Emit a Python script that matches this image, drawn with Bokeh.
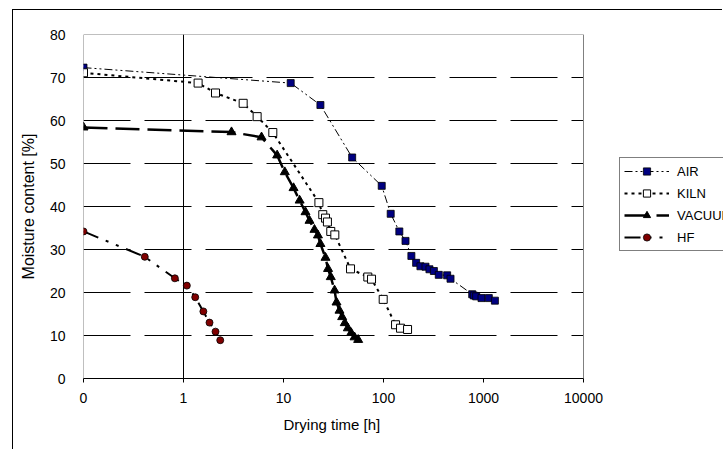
from bokeh.plotting import figure
from bokeh.models import (FixedTicker, Legend, LegendItem, ColumnDataSource, Title)
from bokeh.embed import file_html
from bokeh.resources import INLINE

# ---- data (time 0 is plotted at 0.1 h, the log axis origin labelled "0") ----
air_t = [0.1, 11.8, 23.4, 48.6, 96, 118, 144, 166, 190, 212, 234, 263, 288, 319,
         357, 433, 468, 771, 800, 845, 955, 1130, 1300]
air_m = [72.3, 68.7, 63.6, 51.4, 44.8, 38.3, 34.2, 32.0, 28.5, 26.9, 26.1, 26.0,
         25.4, 25.0, 24.1, 24.0, 23.2, 19.6, 19.3, 19.1, 18.7, 18.7, 18.1]

kiln_t = [0.1, 1.40, 2.09, 3.95, 5.45, 7.82, 22.6, 24.7, 26.3, 27.5, 29.7, 32.6,
          46.8, 69.7, 75.9, 99.3, 132, 148, 174]
kiln_m = [71.1, 68.7, 66.4, 64.0, 60.9, 57.2, 40.9, 38.1, 37.3, 36.4, 34.2, 33.4,
          25.5, 23.6, 23.1, 18.4, 12.5, 11.7, 11.4]

vac_t = [0.1, 3.02, 6.03, 8.64, 10.3, 12.6, 14.5, 16.6, 18.2, 20.4, 22.1, 23.4,
         26.3, 27.9, 29.7, 32.4, 33.9, 36.3, 38.6, 41.0, 44.0, 47.5, 51.3, 55.8]
vac_m = [58.4, 57.3, 56.1, 51.9, 48.0, 44.3, 41.4, 38.7, 36.7, 34.6, 33.3, 31.3,
         28.1, 25.5, 23.6, 20.5, 17.7, 15.8, 14.3, 12.9, 11.7, 10.6, 9.6, 9.0]

hf_t = [0.1, 0.41, 0.82, 1.08, 1.31, 1.58, 1.82, 2.09, 2.33]
hf_m = [34.2, 28.3, 23.3, 21.6, 18.9, 15.6, 13.0, 10.9, 8.9]

x_ticks = [0.1, 1, 10, 100, 1000, 10000]
x_tick_labels = ["0", "1", "10", "100", "1000", "10000"]
y_ticks = [0, 10, 20, 30, 40, 50, 60, 70, 80]
grid_ticks = [10, 20, 30, 40, 50, 60, 70]

X_MIN, X_MAX = 0.1, 10000     # plot-area extent of the log axis
Y_MIN, Y_MAX = 0, 80
Y_CROSS = 1                    # value axis crosses the log axis at 1

FONT = "Liberation Sans"

# The frame is extended to the right edge so the legend may sit beside the
# plot area; the visible plot area (0.1..10000) is 500 px wide.
FRAME_W = 640
x_view_max = 10 ** (-1 + FRAME_W / 100.0)

p = figure(width=710, height=440, x_axis_type="log",
           x_range=(X_MIN, x_view_max), y_range=(Y_MIN, Y_MAX),
           output_backend="svg", toolbar_location=None,
           min_border_left=70, min_border_right=0,
           min_border_top=24, min_border_bottom=72,
           margin=(9, 0, 0, 12),
           styles={"border-left": "1px solid black", "border-top": "1px solid black"})

p.background_fill_color = "white"
p.border_fill_color = "white"
p.outline_line_color = None

# grid lines (dashed) only across the plot area
p.xgrid.grid_line_color = None
p.ygrid.grid_line_color = None
p.segment(x0=[X_MIN] * len(grid_ticks), x1=[X_MAX] * len(grid_ticks),
          y0=grid_ticks, y1=grid_ticks, line_color="black", line_width=1,
          line_dash="47 14")

# plot-area border (gray): left, top, right
p.line([X_MIN, X_MIN, X_MAX, X_MAX], [Y_MIN, Y_MAX, Y_MAX, Y_MIN],
       line_color="#808080", line_width=1)

# value axis line crossing at 1
p.line([Y_CROSS, Y_CROSS], [Y_MIN, Y_MAX], line_color="black", line_width=1)

# axes
p.xaxis.ticker = FixedTicker(ticks=x_ticks)
p.xaxis.bounds = (X_MIN, X_MAX)
p.xaxis.major_label_overrides = {t: l for t, l in zip(x_ticks, x_tick_labels)}
p.xaxis.axis_line_color = "black"
p.xaxis.major_tick_line_color = "black"
p.xaxis.major_tick_out = 4
p.xaxis.major_tick_in = 0
p.xaxis.minor_tick_line_color = None
p.xaxis.major_label_standoff = 10

p.yaxis.ticker = FixedTicker(ticks=y_ticks)
p.yaxis.axis_line_color = None
p.yaxis.major_tick_line_color = None
p.yaxis.minor_tick_line_color = None
p.yaxis.major_label_standoff = 12
p.yaxis.axis_label = "Moisture content [%]"
p.yaxis.axis_label_standoff = 10

for ax in (p.xaxis[0], p.yaxis[0]):
    ax.major_label_text_font = FONT
    ax.major_label_text_font_size = "14px"
    ax.major_label_text_color = "black"
    ax.axis_label_text_font = FONT
    ax.axis_label_text_font_style = "normal"
    ax.axis_label_text_color = "black"
p.yaxis.axis_label_text_font_size = "16px"

# x axis title centred under the 500 px plot area
p.add_layout(Title(text="Drying time [h]", align="left", offset=200,
                   text_font=FONT, text_font_size="15px",
                   text_font_style="normal", text_color="black",
                   standoff=17), "below")

# series
air_src = ColumnDataSource(dict(t=air_t, m=air_m))
kiln_src = ColumnDataSource(dict(t=kiln_t, m=kiln_m))
vac_src = ColumnDataSource(dict(t=vac_t, m=vac_m))
hf_src = ColumnDataSource(dict(t=hf_t, m=hf_m))

air_l = p.line("t", "m", source=air_src, line_color="black", line_width=1,
               line_dash="8 3 2 3 2 3")
air_s = p.scatter("t", "m", source=air_src, marker="square", size=7,
                  fill_color="#000080", line_color="black", line_width=0.8)

kiln_l = p.line("t", "m", source=kiln_src, line_color="black", line_width=2,
                line_dash="3 4")
kiln_s = p.scatter("t", "m", source=kiln_src, marker="square", size=8,
                   fill_color="white", line_color="black", line_width=1)

vac_l = p.line("t", "m", source=vac_src, line_color="black", line_width=2.5,
               line_dash="24 8")
vac_s = p.scatter("t", "m", source=vac_src, marker="triangle", size=9,
                  fill_color="black", line_color="black")

hf_l = p.line("t", "m", source=hf_src, line_color="black", line_width=2,
              line_dash="16 8 3 8 3 8")
hf_s = p.scatter("t", "m", source=hf_src, marker="circle", size=7,
                 fill_color="#800000", line_color="black", line_width=0.8)

legend = Legend(items=[
    LegendItem(label="AIR", renderers=[air_l, air_s]),
    LegendItem(label="KILN", renderers=[kiln_l, kiln_s]),
    LegendItem(label="VACUUM", renderers=[vac_l, vac_s]),
    LegendItem(label="HF", renderers=[hf_l, hf_s]),
], location=(536, 127))
legend.label_text_font = FONT
legend.label_text_font_size = "13px"
legend.label_text_color = "black"
legend.glyph_width = 45
legend.glyph_height = 18
legend.label_height = 18
legend.label_standoff = 8
legend.spacing = 4
legend.padding = 4
legend.margin = 0
legend.border_line_color = "black"
legend.border_line_width = 1
legend.background_fill_color = "white"
legend.background_fill_alpha = 1
p.add_layout(legend, "center")

open("out.html", "w").write(file_html(p, INLINE))
